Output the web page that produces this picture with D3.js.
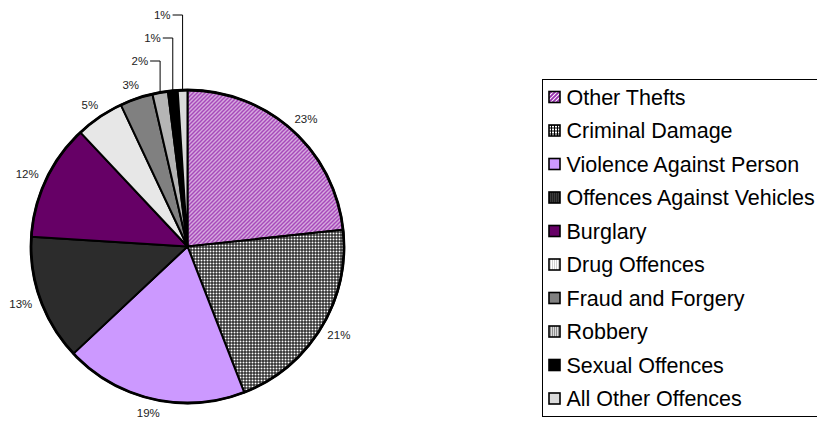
<!DOCTYPE html>
<html>
<head>
<meta charset="utf-8">
<script src="https://cdn.jsdelivr.net/npm/d3@7"></script>
<style>
  body { margin: 0; background: #fff; }
  svg { display: block; font-family: "Liberation Sans", Arial, sans-serif; }
</style>
</head>
<body>
<div id="chart"></div>
<script>
// recorded crime by type, share of total (%)
const categories = [
  'Other Thefts',
  'Criminal Damage',
  'Violence Against Person',
  'Offences Against Vehicles',
  'Burglary',
  'Drug Offences',
  'Fraud and Forgery',
  'Robbery',
  'Sexual Offences',
  'All Other Offences'
]
const values = [23.3, 20.8, 18.9, 13.0, 12.0, 5.0, 3.4, 1.6, 1.0, 1.0]

const width = 817
const height = 421
const cx = 187.5
const cy = 246.5
const radius = 156.5

const svg = d3.select('#chart').append('svg')
  .attr('width', width)
  .attr('height', height)

const defs = svg.append('defs')

// fill patterns, one per category, in the order of `categories`
function pat(id, size, bg, draw) {
  const p = defs.append('pattern')
    .attr('id', id)
    .attr('patternUnits', 'userSpaceOnUse')
    .attr('width', size)
    .attr('height', size)
  p.append('rect').attr('width', size).attr('height', size).attr('fill', bg)
  draw(p)
  return 'url(#' + id + ')'
}

const fills = [
  pat('p0', 4, '#fff', p => p.append('path')
    .attr('d', 'M0,4L4,0M-1,1L1,-1M3,5L5,3')
    .attr('stroke', '#9a2fb0').attr('stroke-width', 1.9)),
  pat('p1', 3, '#000', p => p.append('rect')
    .attr('x', 1).attr('y', 1).attr('width', 2).attr('height', 2).attr('fill', '#fff')),
  '#cc99ff',
  pat('p3', 2, '#1e1e1e', p => p.append('rect')
    .attr('width', 1).attr('height', 1).attr('fill', '#555')),
  '#660066',
  pat('p5', 2, '#fff', p => p.append('rect')
    .attr('width', 1).attr('height', 1).attr('fill', '#a0a0a0')),
  '#808080',
  pat('p7', 2, '#b8b8b8', p => {
    p.append('rect').attr('width', 1).attr('height', 1).attr('fill', '#666')
    p.append('rect').attr('x', 1).attr('y', 1).attr('width', 1).attr('height', 1).attr('fill', '#fff')
  }),
  '#000',
  pat('p9', 2, '#fff', p => {
    p.append('rect').attr('width', 1).attr('height', 1).attr('fill', '#b4b4b4')
    p.append('rect').attr('x', 1).attr('y', 1).attr('width', 1).attr('height', 1).attr('fill', '#b4b4b4')
  })
]

const color = d3.scaleOrdinal().domain(categories).range(fills)

const pie = d3.pie().sort(null).value(d => d.value)
const data = categories.map((c, i) => ({ name: c, value: values[i] }))
const arcs = pie(data)
const total = d3.sum(values)

const arc = d3.arc().innerRadius(0).outerRadius(radius)

const g = svg.append('g').attr('transform', `translate(${cx},${cy})`)

g.selectAll('.slice')
  .data(arcs)
  .enter()
  .append('path')
  .attr('class', 'slice')
  .attr('d', arc)
  .attr('fill', d => color(d.data.name))
  .attr('stroke', '#000')
  .attr('stroke-width', 2)
  .attr('stroke-linejoin', 'round')

g.append('circle')
  .attr('r', radius)
  .attr('fill', 'none')
  .attr('stroke', '#000')
  .attr('stroke-width', 2.8)

// labels
const labelSize = 11.5
const pct = d => Math.round(d.value / total * 100) + '%'
const small = arcs.filter(d => d.value < 2)
const big = arcs.filter(d => d.value >= 2)

big.forEach(d => {
  const a = (d.startAngle + d.endAngle) / 2
  const txt = pct(d)
  const w = txt.length * 0.62 * labelSize
  const h = labelSize * 0.8
  const r = radius + 10
  const x = r * Math.sin(a) + w / 2 * Math.sin(a)
  const y = -r * Math.cos(a) - h / 2 * Math.cos(a)
  g.append('text')
    .attr('x', x)
    .attr('y', y)
    .attr('dy', '0.35em')
    .attr('text-anchor', 'middle')
    .attr('font-size', labelSize)
    .attr('fill', '#222')
    .text(txt)
})

// tiny slices get stacked labels with leader lines
small.forEach((d, k) => {
  const a = (d.startAngle + d.endAngle) / 2
  const lx = radius * Math.sin(a)
  const ly = -Math.sqrt(radius * radius - lx * lx) + 1
  const levelY = -radius - 29 - 23 * k
  g.append('path')
    .attr('d', `M${lx - 10},${levelY}H${lx}V${ly}`)
    .attr('fill', 'none')
    .attr('stroke', '#000')
    .attr('stroke-width', 1)
  g.append('text')
    .attr('x', lx - 12)
    .attr('y', levelY)
    .attr('dy', '0.35em')
    .attr('text-anchor', 'end')
    .attr('font-size', labelSize)
    .attr('fill', '#222')
    .text(pct(d))
})

// legend
const legendX = 542
const legendY = 79
const rowH = 33.5

const legend = svg.append('g').attr('transform', `translate(${legendX},${legendY})`)

legend.append('rect')
  .attr('x', 0.5)
  .attr('y', 0.5)
  .attr('width', 320)
  .attr('height', rowH * categories.length + 2)
  .attr('fill', '#fff')
  .attr('stroke', '#000')
  .attr('stroke-width', 1)

const rows = legend.selectAll('.row')
  .data(categories)
  .enter()
  .append('g')
  .attr('class', 'row')
  .attr('transform', (d, i) => `translate(0,${18 + i * rowH})`)

rows.append('rect')
  .attr('x', 7)
  .attr('y', -5.5)
  .attr('width', 11)
  .attr('height', 11)
  .attr('fill', d => color(d))
  .attr('stroke', '#000')
  .attr('stroke-width', 1.6)

rows.append('text')
  .attr('x', 24.5)
  .attr('dy', '0.36em')
  .attr('font-size', 21.5)
  .attr('fill', '#000')
  .text(d => d)
</script>
</body>
</html>
